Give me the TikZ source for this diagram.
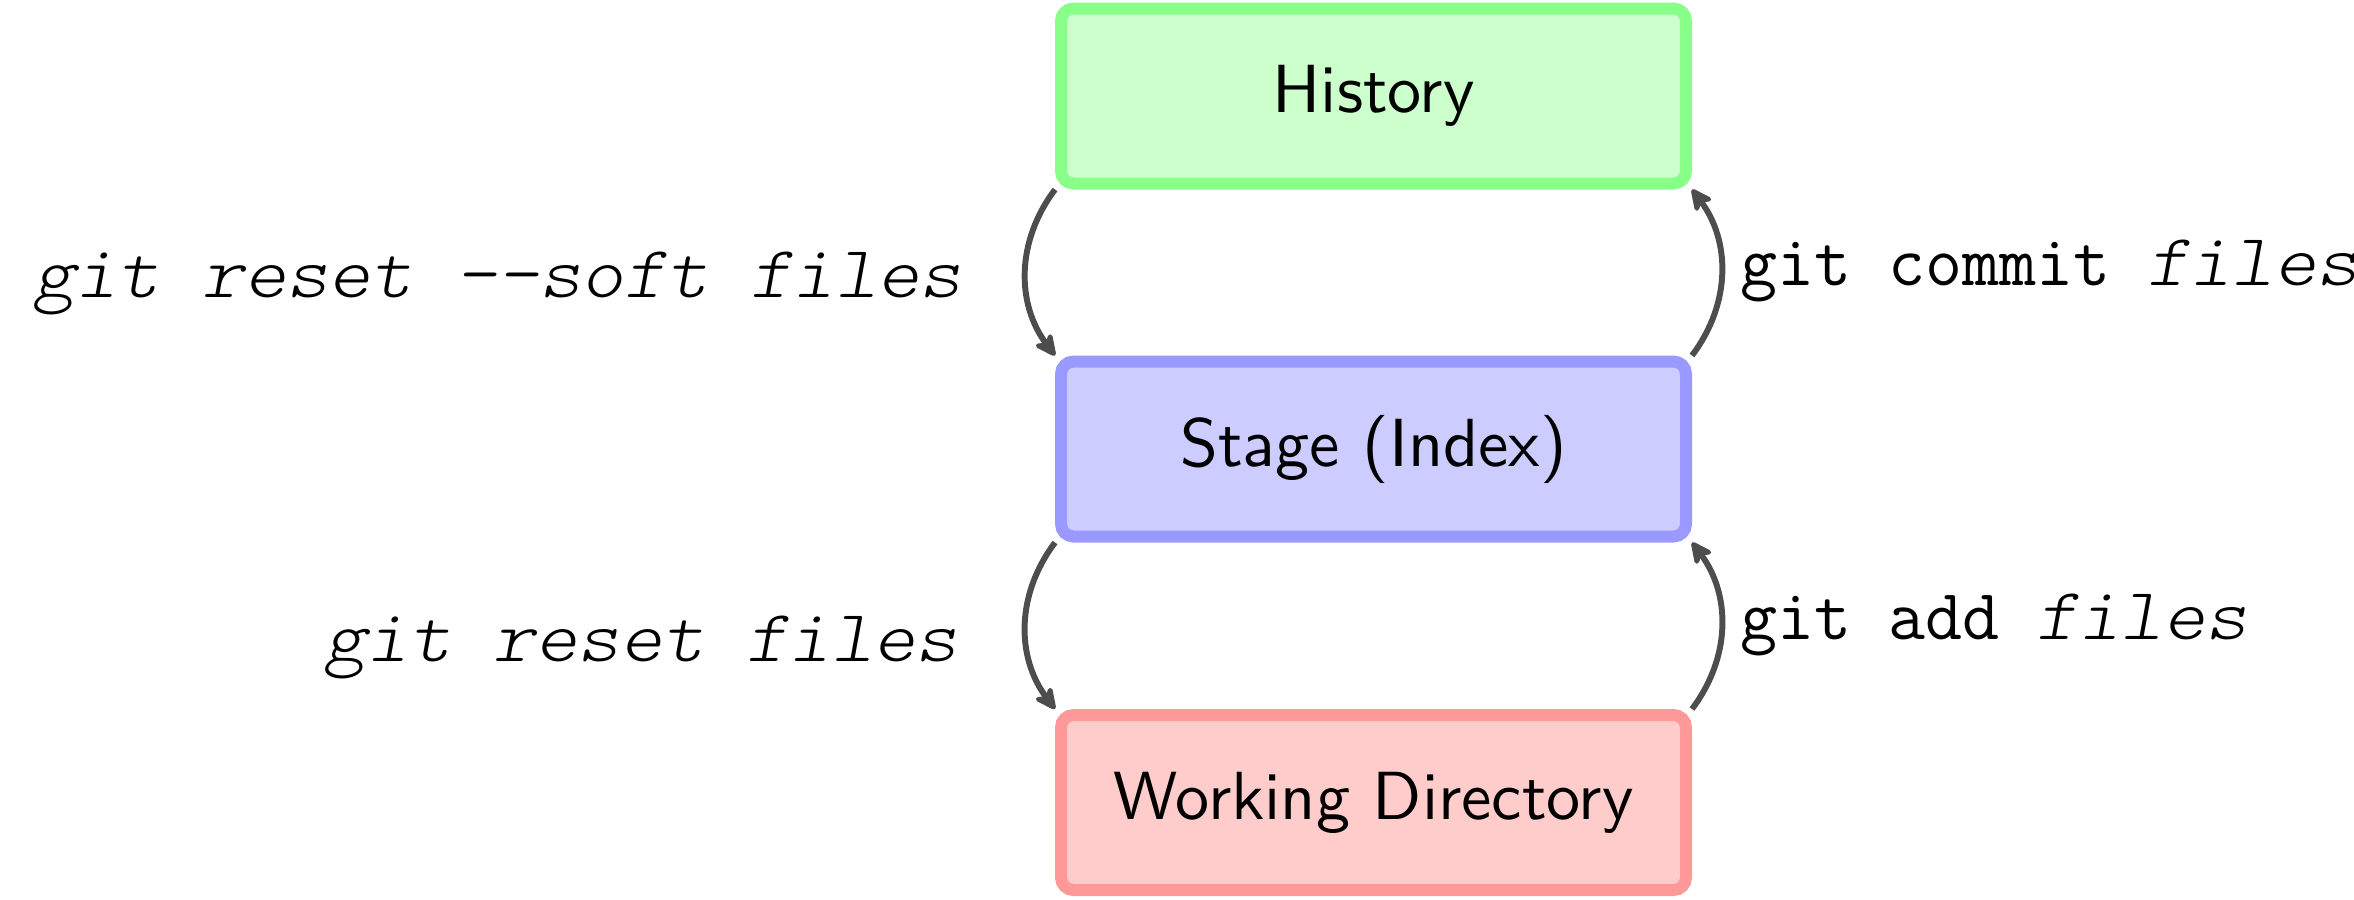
\documentclass[tikz,border=0pt]{standalone}
\usepackage{fontspec}
\usetikzlibrary{arrows.meta}
\newfontfamily\slmono{lmmonolt10-oblique.otf}[FakeStretch=1.09]
\definecolor{histfill}{HTML}{CCFFCC}
\definecolor{histdraw}{HTML}{88FF88}
\definecolor{stagefill}{HTML}{CCCCFF}
\definecolor{stagedraw}{HTML}{9999FF}
\definecolor{wdfill}{HTML}{FFCCCC}
\definecolor{wddraw}{HTML}{FF9999}
\definecolor{arrowgray}{HTML}{4D4D4D}
\newcommand\uprtt{\fontsize{11.5pt}{13pt}\selectfont\ttfamily\upshape}
\newcommand\itatt{\fontsize{11.8pt}{13pt}\selectfont\slmono}
\begin{document}
\begin{tikzpicture}[x=0.16pt,y=0.16pt,
  box/.style={rounded corners=2pt, line width=1.92pt, minimum width=100pt,
    minimum height=28pt, inner sep=0pt, font=\fontsize{10.9pt}{13pt}\selectfont\sffamily},
  arr/.style={draw=arrowgray, line width=0.95pt,
    -{Stealth[round,length=4.4pt,width=4.2pt,inset=1.4pt]}},
  lbl/.style={inner sep=0pt, text=black}]
\useasboundingbox (0,0) rectangle (2354,899);
\node[box, draw=histdraw, fill=histfill] (hist) at (1373.5,803) {History};
\node[box, draw=stagedraw, fill=stagefill] (stage) at (1373.5,450) {Stage (Index)};
\node[box, draw=wddraw, fill=wdfill] (wd) at (1373.5,96.5) {Working Directory};
\draw[arr] (hist.south west) to[bend right=37] (stage.north west);
\draw[arr] (stage.south west) to[bend right=37] (wd.north west);
\draw[arr] (stage.north east) to[bend right=37] (hist.south east);
\draw[arr] (wd.north east) to[bend right=37] (stage.south east);
\node[lbl, anchor=base east] (lsoft) at (963,602) {\itatt git reset -{}-soft files};
\node[lbl, anchor=base east] (lreset) at (959,238) {\itatt git reset files};
\node[lbl, anchor=base west] (lcommit) at (1739,614) {\uprtt git commit \itatt files};
\node[lbl, anchor=base west] (ladd) at (1739,260) {\uprtt git add \itatt files};
\end{tikzpicture}
\end{document}
